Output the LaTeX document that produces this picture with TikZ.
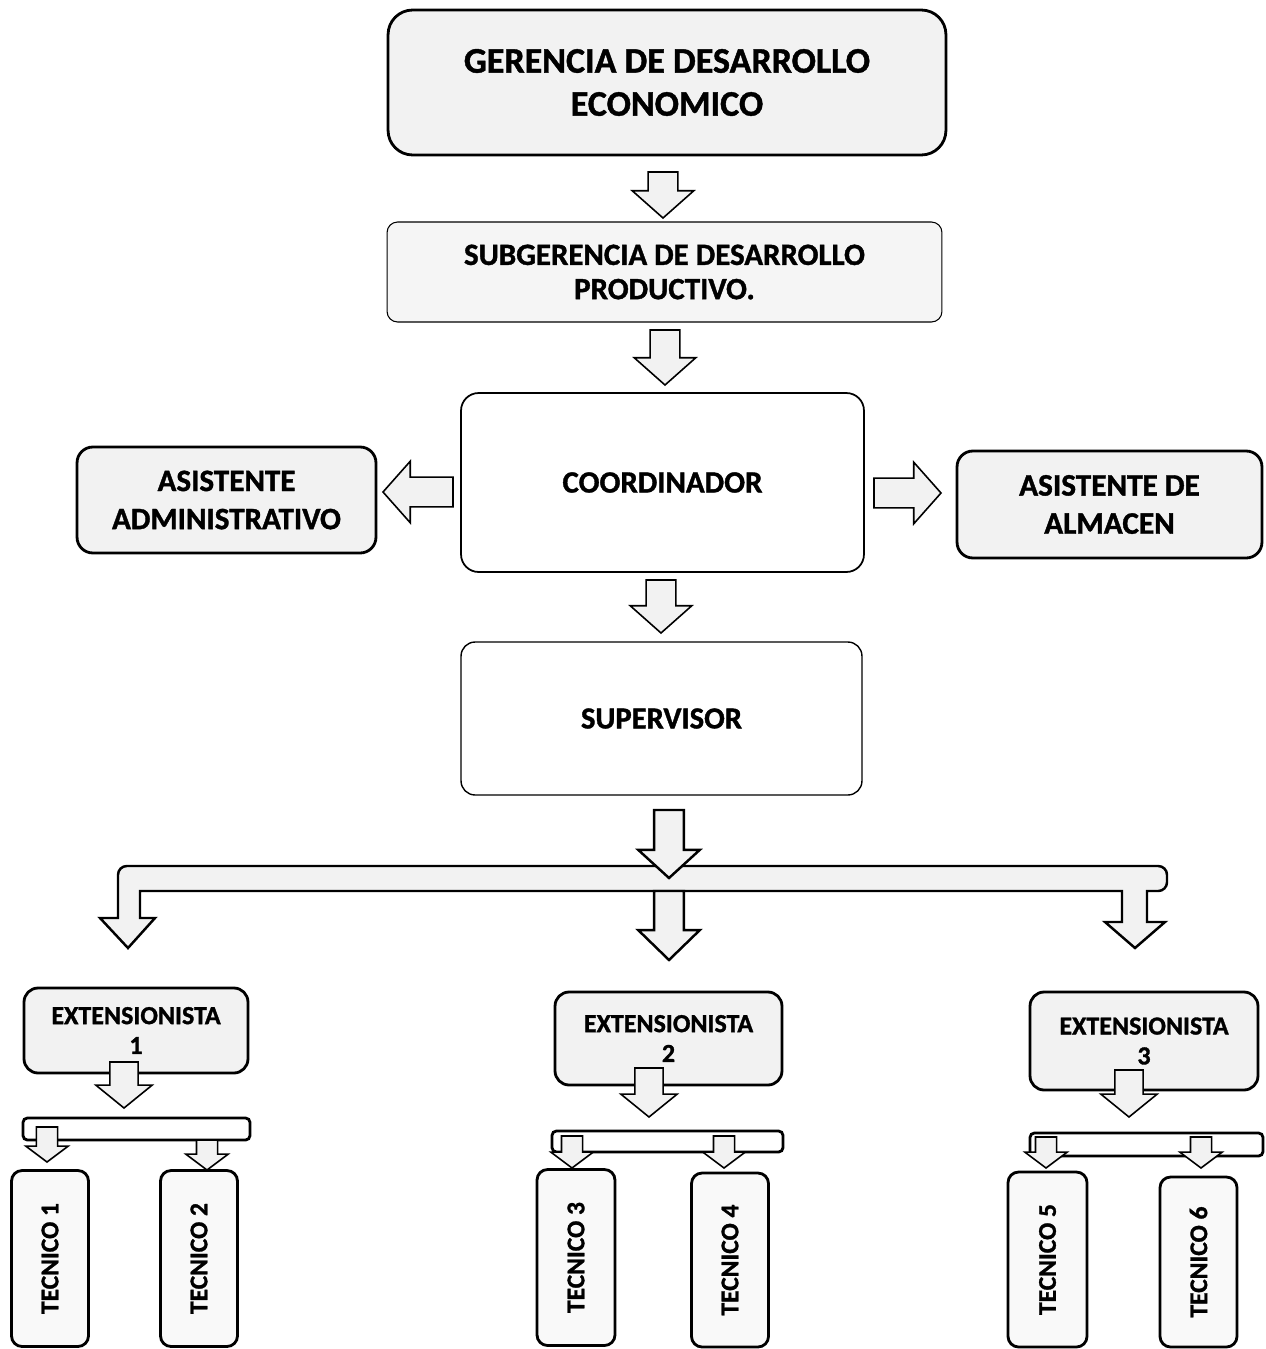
\documentclass[tikz,border=0pt]{standalone}
\usepackage{fontspec}
\setmainfont{Carlito}[BoldFeatures={FakeBold=1.2}]
\usetikzlibrary{calc}
\begin{document}
\begin{tikzpicture}
    [x=0.02cm,y=-0.02cm,
    box/.style={rectangle,rounded corners=9pt,draw=black,line width=1.6pt,fill=gray!10,align=center,inner sep=0pt},
    plainbox/.style={box,fill=white,line width=1pt},
    tecbox/.style={box,rounded corners=6pt,fill=gray!5,minimum width=1.54cm,minimum height=3.52cm,font=\fontsize{14.5}{17}\selectfont\bfseries},
    extbox/.style={box,rounded corners=8pt,minimum width=4.52cm,font=\fontsize{14.8}{17}\selectfont\bfseries},
    ashaft/.store in=\ashaft, ahead/.store in=\ahead, alen/.store in=\alen,
    blockarrow/.style={draw=black,line width=0.9pt,fill=gray!10,line join=miter},
    bigarrow/.style={blockarrow,ashaft=8.5pt,ahead=17.5pt,alen=15.5pt},
    midarrow/.style={blockarrow,ashaft=8pt,ahead=16pt,alen=13pt},
    smallarrow/.style={blockarrow,ashaft=6pt,ahead=12pt,alen=9pt},
    blockdown/.style={to path={let \p1=(\tikztostart),\p2=(\tikztotarget) in
        (\x2-\ashaft,\y1) -- (\x2-\ashaft,\y2+\alen) -- (\x2-\ahead,\y2+\alen) -- (\x2,\y2)
        -- (\x2+\ahead,\y2+\alen) -- (\x2+\ashaft,\y2+\alen) -- (\x2+\ashaft,\y1) -- cycle}},
    blockleft/.style={to path={let \p1=(\tikztostart),\p2=(\tikztotarget) in
        (\x1,\y2-\ashaft) -- (\x2+\alen,\y2-\ashaft) -- (\x2+\alen,\y2-\ahead) -- (\x2,\y2)
        -- (\x2+\alen,\y2+\ahead) -- (\x2+\alen,\y2+\ashaft) -- (\x1,\y2+\ashaft) -- cycle}},
    blockright/.style={to path={let \p1=(\tikztostart),\p2=(\tikztotarget) in
        (\x1,\y2-\ashaft) -- (\x2-\alen,\y2-\ashaft) -- (\x2-\alen,\y2-\ahead) -- (\x2,\y2)
        -- (\x2-\alen,\y2+\ahead) -- (\x2-\alen,\y2+\ashaft) -- (\x1,\y2+\ashaft) -- cycle}},
    bar/.style={draw=black,line width=1.6pt,fill=white,rounded corners=2.5pt}]

    \useasboundingbox (0,0) rectangle (1266,1349);

    % upper chain
    \node[box,rounded corners=14pt,minimum width=11.16cm,minimum height=2.9cm,
          font=\fontsize{20.5}{24.5}\selectfont\bfseries] (ger) at (667,82.5)
          {GERENCIA DE DESARROLLO\\ECONOMICO};
    \node[box,line width=0.6pt,rounded corners=6pt,fill=gray!8,minimum width=11.1cm,minimum height=2cm,
          font=\fontsize{17.6}{19.5}\selectfont\bfseries] (sub) at (664.5,272)
          {SUBGERENCIA DE DESARROLLO\\PRODUCTIVO.};
    \node[plainbox,rounded corners=10pt,minimum width=8.06cm,minimum height=3.58cm,
          font=\fontsize{17.6}{20}\selectfont\bfseries] (coord) at (662.5,482.5) {COORDINADOR};
    \node[plainbox,line width=0.8pt,rounded corners=8pt,minimum width=8.02cm,minimum height=3.06cm,
          font=\fontsize{17.4}{20}\selectfont\bfseries] (sup) at (661.5,718.5) {SUPERVISOR};
    \node[box,minimum width=5.98cm,minimum height=2.12cm,
          font=\fontsize{17.7}{21.7}\selectfont\bfseries] (adm) at (226.5,500)
          {ASISTENTE\\ADMINISTRATIVO};
    \node[box,minimum width=6.1cm,minimum height=2.14cm,
          font=\fontsize{17.8}{21.7}\selectfont\bfseries] (alm) at (1109.5,504.5)
          {ASISTENTE DE\\ALMACEN};

    \coordinate (a1s) at (663,172);  \coordinate (a1t) at (663,218);
    \coordinate (a2s) at (665,330);  \coordinate (a2t) at (665,385);
    \coordinate (a3s) at (661,580);  \coordinate (a3t) at (661,633);
    \coordinate (als) at (453,492);  \coordinate (alt) at (383,492);
    \coordinate (ars) at (874,493);  \coordinate (art) at (941,493);
    \draw[bigarrow,blockdown] (a1s) to (a1t);
    \draw[bigarrow,blockdown] (a2s) to (a2t);
    \draw[bigarrow,blockdown] (a3s) to (a3t);
    \draw[bigarrow,blockleft] (als) to (alt);
    \draw[bigarrow,blockright] (ars) to (art);

    % distribution bar
    \draw[blockarrow,line width=1.4pt] (118,918) [rounded corners=5pt] -- (118,866) -- (1167,866) -- (1167,891)
        [sharp corners] -- (1147,891) -- (1147,922) -- (1165,922) -- (1135,948) -- (1105,922)
        -- (1122,922) -- (1122,891) -- (140,891) -- (140,918) -- (155,918) -- (128,948) -- (100,918) -- cycle;
    \coordinate (a4s) at (669,810);  \coordinate (a4t) at (669,878);
    \coordinate (a5s) at (669,891);  \coordinate (a5t) at (669,960);
    \draw[bigarrow,alen=16pt,line width=1.4pt,blockdown] (a4s) to (a4t);
    \draw[bigarrow,alen=17pt,line width=1.4pt,blockdown] (a5s) to (a5t);

    % extensionistas
    \node[extbox,minimum width=4.48cm,minimum height=1.7cm] (ext1) at (136,1030.5) {EXTENSIONISTA\\1};
    \node[extbox,minimum width=4.54cm,minimum height=1.86cm] (ext2) at (668.5,1038.5) {EXTENSIONISTA\\2};
    \node[extbox,minimum width=4.56cm,minimum height=1.96cm] (ext3) at (1144,1041) {EXTENSIONISTA\\3};

    \draw[midarrow,blockdown] (124,1062) coordinate (e1s) to (124,1108) coordinate (e1t);
    \draw[midarrow,blockdown] (649,1068) coordinate (e2s) to (649,1117) coordinate (e2t);
    \draw[midarrow,blockdown] (1129,1070) coordinate (e3s) to (1129,1117) coordinate (e3t);

    % small bars
    \draw[bar] (23,1118) rectangle (250,1140);
    \draw[bar] (552,1131) rectangle (783,1152);
    \draw[bar] (1030,1133) rectangle (1263,1156);

    % tecnicos
    \node[tecbox] (tec1) at (50,1258.5)   {\rotatebox{90}{TECNICO 1}};
    \node[tecbox] (tec2) at (199,1258.5)  {\rotatebox{90}{TECNICO 2}};
    \node[tecbox,minimum width=1.56cm] (tec3) at (576,1257.5)  {\rotatebox{90}{TECNICO 3}};
    \node[tecbox,minimum height=3.48cm] (tec4) at (730,1260)   {\rotatebox{90}{TECNICO 4}};
    \node[tecbox,minimum width=1.58cm,minimum height=3.5cm] (tec5) at (1047.5,1259.5) {\rotatebox{90}{TECNICO 5}};
    \node[tecbox,minimum height=3.4cm] (tec6) at (1198.5,1262) {\rotatebox{90}{TECNICO 6}};

    \draw[smallarrow,blockdown] (47,1127) coordinate (t1s) to (47,1162) coordinate (t1t);
    \draw[smallarrow,blockdown] (207,1140) coordinate (t2s) to (207,1170) coordinate (t2t);
    \draw[smallarrow,blockdown] (572,1136) coordinate (t3s) to (572,1168) coordinate (t3t);
    \draw[smallarrow,blockdown] (724,1136) coordinate (t4s) to (724,1168) coordinate (t4t);
    \draw[smallarrow,blockdown] (1046,1137) coordinate (t5s) to (1046,1168) coordinate (t5t);
    \draw[smallarrow,blockdown] (1201,1137) coordinate (t6s) to (1201,1168) coordinate (t6t);
\end{tikzpicture}
\end{document}
